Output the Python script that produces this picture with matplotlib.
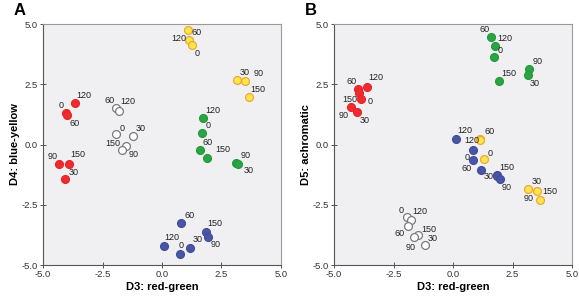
import matplotlib
matplotlib.use('Agg')
import matplotlib.pyplot as plt

plt.rcParams['font.family'] = ['Liberation Sans', 'DejaVu Sans']

###############################################################################
# Data
###############################################################################
# Panel A: D3 (red-green) vs D4 (blue-yellow)
a_red_x = [-3.67, -4.02, -3.98, -4.31, -3.91, -4.06]
a_red_y = [1.71, 1.30, 1.22, -0.82, -0.80, -1.43]
a_red_lab = ['120', '0', '60', '90', '150', '30']
a_wht_x = [-1.92, -1.82, -1.95, -1.22, -1.50, -1.68]
a_wht_y = [1.50, 1.40, 0.42, 0.37, -0.07, -0.24]
a_wht_lab = ['60', '120', '0', '30', '90', '150']
a_yel_x = [1.10, 1.13, 1.27, 3.15, 3.49, 3.64]
a_yel_y = [4.76, 4.32, 4.13, 2.68, 2.62, 1.97]
a_yel_lab = ['60', '120', '0', '30', '90', '150']
a_grn_x = [1.71, 1.69, 1.58, 1.91, 3.10, 3.18]
a_grn_y = [1.09, 0.46, -0.24, -0.57, -0.75, -0.80]
a_grn_lab = ['120', '0', '60', '150', '90', '30']
a_blu_x = [0.81, 1.84, 1.95, 0.08, 1.16, 0.77]
a_blu_y = [-3.27, -3.62, -3.82, -4.22, -4.28, -4.54]
a_blu_lab = ['60', '150', '90', '120', '30', '0']

# Panel B: D3 (red-green) vs D5 (achromatic)
b_red_x = [-3.63, -3.98, -3.94, -3.87, -4.29, -4.02]
b_red_y = [2.40, 2.29, 2.12, 1.89, 1.54, 1.35]
b_red_lab = ['120', '60', '150', '0', '90', '30']
b_grn_x = [1.61, 1.75, 1.72, 1.94, 3.21, 3.14]
b_grn_y = [4.46, 4.09, 3.64, 2.62, 3.13, 2.87]
b_grn_lab = ['60', '120', '0', '150', '90', '30']
b_blu_x = [0.11, 0.82, 0.85, 1.19, 1.86, 1.84, 1.97]
b_blu_y = [0.22, -0.24, -0.63, -1.05, -1.27, -1.31, -1.44]
b_blu_lab = ['120', '', '0', '60', '150', '30', '90']
b_yel_x = [1.15, 1.12, 1.29, 3.17, 3.51, 3.66]
b_yel_y = [0.22, 0.20, -0.60, -1.85, -1.93, -2.32]
b_yel_lab = ['60', '120', '0', '30', '150', '90']
b_wht_x = [-1.92, -1.78, -1.88, -1.46, -1.64, -1.19]
b_wht_y = [-3.00, -3.12, -3.37, -3.76, -3.85, -4.17]
b_wht_lab = ['0', '120', '60', '150', '90', '30']

ticks = [-5.0, -2.5, 0.0, 2.5, 5.0]

# Label offsets in pixels (layout only)
off = {
    'a_red': [(9, 8), (-5, 8), (7, -8), (-7, 8), (9, 9), (8, 7)],
    'a_wht': [(-7, 8), (9, 9), (7, 6), (8, 7), (7, -8), (-9, 7)],
    'a_yel': [(8, -3), (-10, 2), (5, -8), (8, 8), (14, 8), (9, 8)],
    'a_grn': [(10, 8), (6, 8), (8, 8), (15, 9), (10, 7), (11, -7)],
    'a_blu': [(8, 8), (9, 8), (7, -8), (8, 9), (8, 8), (1, 8)],
    'b_red': [(9, 9), (-7, 8), (-9, -6), (9, -2), (-7, -8), (7, -8)],
    'b_grn': [(-7, 8), (10, 8), (6, 6), (10, 8), (8, 8), (7, -8)],
    'b_blu': [(9, 9), (0, 0), (-6, 2), (-15, 1), (10, 8), (-8, 0), (7, -8)],
    'b_yel': [(9, 8), (-8, -1), (6, 6), (8, 8), (13, 0), (-11, 2)],
    'b_wht': [(-6, 6), (9, 8), (-9, -8), (11, 6), (-3, -10), (8, 7)],
}

styles = {
    'red': dict(fc='#ee2b2e', ec='#e8262a'),
    'wht': dict(fc='#ffffff', ec='#7a7a7a'),
    'yel': dict(fc='#ffe64d', ec='#f0a62e'),
    'grn': dict(fc='#2ba444', ec='#25993c'),
    'blu': dict(fc='#4b55a5', ec='#424c9c'),
}

fig = plt.figure(figsize=(5.79, 3.03), dpi=100)
fig.patch.set_facecolor('white')

panels = [
    ('A', 0.0743, 'D4: blue-yellow', [
        ('red', a_red_x, a_red_y, a_red_lab, off['a_red']),
        ('wht', a_wht_x, a_wht_y, a_wht_lab, off['a_wht']),
        ('yel', a_yel_x, a_yel_y, a_yel_lab, off['a_yel']),
        ('grn', a_grn_x, a_grn_y, a_grn_lab, off['a_grn']),
        ('blu', a_blu_x, a_blu_y, a_blu_lab, off['a_blu']),
    ]),
    ('B', 0.5769, 'D5: achromatic', [
        ('red', b_red_x, b_red_y, b_red_lab, off['b_red']),
        ('grn', b_grn_x, b_grn_y, b_grn_lab, off['b_grn']),
        ('blu', b_blu_x, b_blu_y, b_blu_lab, off['b_blu']),
        ('yel', b_yel_x, b_yel_y, b_yel_lab, off['b_yel']),
        ('wht', b_wht_x, b_wht_y, b_wht_lab, off['b_wht']),
    ]),
]

for letter, left, ylab, groups in panels:
    ax = fig.add_axes([left, 0.1254, 0.411, 0.795])
    ax.set_facecolor('#f0f0f3')
    for name, xs, ys, labs, offs in groups:
        st = styles[name]
        ax.scatter(xs, ys, s=32, facecolor=st['fc'], edgecolor=st['ec'],
                   linewidth=0.9, zorder=3)
        for x, y, lab, (dx, dy) in zip(xs, ys, labs, offs):
            if lab:
                ax.annotate(lab, (x, y), xytext=(dx, dy),
                            textcoords='offset pixels', ha='center',
                            va='center', fontsize=6.5, color='#222222',
                            zorder=4)
    ax.set_xlim(-5, 5)
    ax.set_ylim(-5, 5)
    ax.set_xticks(ticks)
    ax.set_yticks(ticks)
    ax.set_xticklabels(['{:.1f}'.format(t) for t in ticks])
    ax.set_yticklabels(['{:.1f}'.format(t) for t in ticks])
    ax.tick_params(direction='inout', length=5, width=0.7, color='#555555',
                   labelsize=6.8, labelcolor='#333333', pad=1)
    for sp in ax.spines.values():
        sp.set_color('#9a9a9a')
        sp.set_linewidth(0.8)
    ax.spines['left'].set_color('#555555')
    ax.spines['bottom'].set_color('#555555')
    ax.set_xlabel('D3: red-green', fontsize=8, fontweight='bold', labelpad=2)
    ax.set_ylabel(ylab, fontsize=8, fontweight='bold', labelpad=1)
    fig.text(left - 0.051, 0.966, letter, fontsize=12, fontweight='bold',
             ha='left', va='center')

fig.savefig('out.png', dpi=100)
